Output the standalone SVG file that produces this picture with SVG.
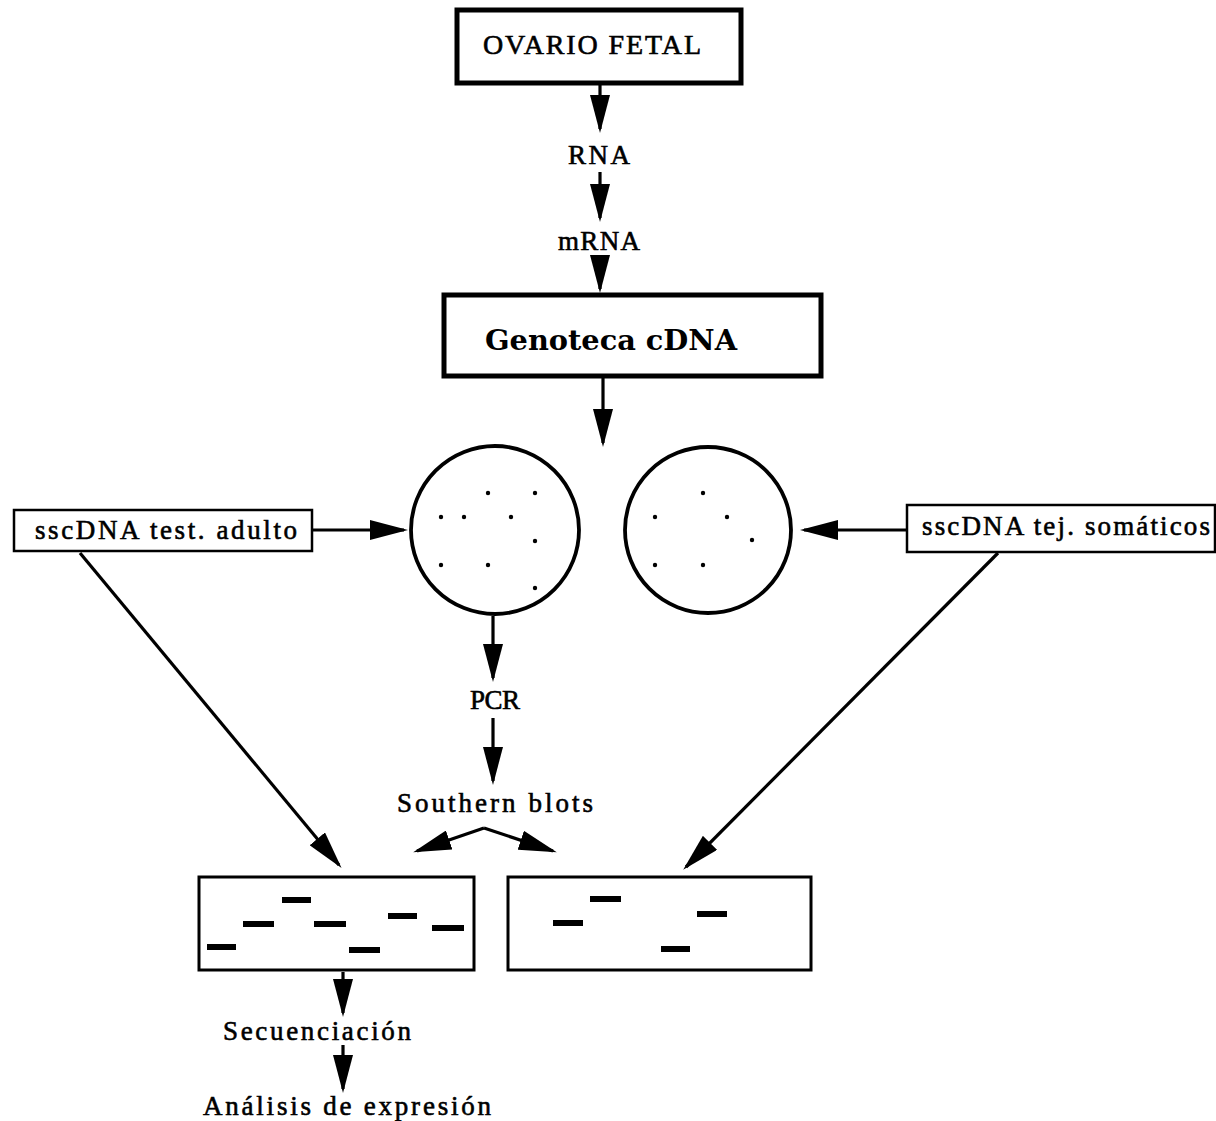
<svg xmlns="http://www.w3.org/2000/svg" width="1216" height="1121" viewBox="0 0 1216 1121">
<style>
text{font-family:"Liberation Serif","DejaVu Serif",serif;fill:#000;stroke:#000;stroke-width:0.6;font-size:27px}
text.big{font-size:28px}
text.g{font-family:"DejaVu Serif","Liberation Serif",serif;font-size:28px;font-weight:bold;stroke-width:0}
.box{fill:#fff;stroke:#000}
.c{fill:none;stroke:#000;stroke-width:3.8}
.band{stroke:#000;stroke-width:6}
.dot{fill:#000}
</style>
<defs>
<marker id="ah" viewBox="0 0 38 20" refX="34" refY="10" markerWidth="38" markerHeight="20" markerUnits="userSpaceOnUse" orient="auto">
<path d="M0,0 L38,10 L0,20 z" fill="#000"/>
</marker>
</defs>
<rect width="1216" height="1121" fill="#fff"/>
<g id="connectors" stroke="#000" stroke-width="3.2" fill="none" marker-end="url(#ah)">
<line x1="600" y1="85" x2="600" y2="129"/>
<line x1="600" y1="172" x2="600" y2="218"/>
<line x1="600" y1="256" x2="600" y2="289"/>
<line x1="603" y1="377" x2="603" y2="443"/>
<line x1="313" y1="530" x2="404" y2="530"/>
<line x1="906" y1="530" x2="804" y2="530"/>
<line x1="80" y1="553" x2="339" y2="865"/>
<line x1="998" y1="553" x2="686" y2="867"/>
<line x1="493" y1="616" x2="493" y2="678"/>
<line x1="493" y1="718" x2="493" y2="781"/>
<line x1="484" y1="828" x2="417" y2="851"/>
<line x1="484" y1="828" x2="553" y2="851"/>
<line x1="343" y1="972" x2="343" y2="1013"/>
<line x1="343" y1="1045" x2="343" y2="1089"/>
</g>
<g id="ovario">
<rect class="box" x="457" y="10" width="284" height="73" stroke-width="5"/>
<text class="big" x="483" y="54" textLength="218" lengthAdjust="spacing">OVARIO FETAL</text>
</g>
<g id="rna"><text x="568" y="164" textLength="62" lengthAdjust="spacing">RNA</text></g>
<g id="mrna"><text x="558" y="250" textLength="82" lengthAdjust="spacing">mRNA</text></g>
<g id="genoteca">
<rect class="box" x="444" y="295" width="377" height="81" stroke-width="5"/>
<text class="g" x="485" y="350" textLength="252" lengthAdjust="spacingAndGlyphs">Genoteca cDNA</text>
</g>
<g id="plate1">
<circle class="c" cx="495" cy="530" r="84"/>
<g class="dot">
<circle cx="488" cy="493" r="2.2"/><circle cx="535" cy="493" r="2.2"/>
<circle cx="441" cy="517" r="2.2"/><circle cx="464" cy="517" r="2.2"/><circle cx="511" cy="517" r="2.2"/>
<circle cx="535" cy="541" r="2.2"/>
<circle cx="441" cy="565" r="2.2"/><circle cx="488" cy="565" r="2.2"/>
<circle cx="535" cy="588" r="2.2"/>
</g>
</g>
<g id="plate2">
<circle class="c" cx="708" cy="530" r="83"/>
<g class="dot">
<circle cx="703" cy="493" r="2.2"/>
<circle cx="655" cy="517" r="2.2"/><circle cx="727" cy="517" r="2.2"/>
<circle cx="752" cy="540" r="2.2"/>
<circle cx="655" cy="565" r="2.2"/><circle cx="703" cy="565" r="2.2"/>
</g>
</g>
<g id="sscdna-adulto">
<rect class="box" x="14" y="510" width="298" height="41" stroke-width="2.5"/>
<text x="35" y="539" textLength="262" lengthAdjust="spacing">sscDNA test. adulto</text>
</g>
<g id="sscdna-somaticos">
<rect class="box" x="907" y="505" width="308" height="47" stroke-width="2.5"/>
<text x="922" y="535" textLength="288" lengthAdjust="spacing">sscDNA tej. somáticos</text>
</g>
<g id="pcr"><text x="470" y="709" textLength="50" lengthAdjust="spacing">PCR</text></g>
<g id="southern"><text x="397" y="812" textLength="196" lengthAdjust="spacing">Southern blots</text></g>
<g id="gel1">
<rect class="box" x="199" y="877" width="275" height="93" stroke-width="3"/>
<line class="band" x1="282" y1="900" x2="311" y2="900"/>
<line class="band" x1="243" y1="924" x2="274" y2="924"/>
<line class="band" x1="314" y1="924" x2="346" y2="924"/>
<line class="band" x1="388" y1="916" x2="417" y2="916"/>
<line class="band" x1="432" y1="928" x2="464" y2="928"/>
<line class="band" x1="207" y1="947" x2="236" y2="947"/>
<line class="band" x1="349" y1="950" x2="380" y2="950"/>
</g>
<g id="gel2">
<rect class="box" x="508" y="877" width="303" height="93" stroke-width="3"/>
<line class="band" x1="590" y1="899" x2="621" y2="899"/>
<line class="band" x1="553" y1="923" x2="583" y2="923"/>
<line class="band" x1="697" y1="914" x2="727" y2="914"/>
<line class="band" x1="661" y1="949" x2="690" y2="949"/>
</g>
<g id="secuenciacion"><text x="223" y="1040" textLength="188" lengthAdjust="spacing">Secuenciación</text></g>
<g id="analisis"><text x="203" y="1115" textLength="288" lengthAdjust="spacing">Análisis de expresión</text></g>
</svg>
